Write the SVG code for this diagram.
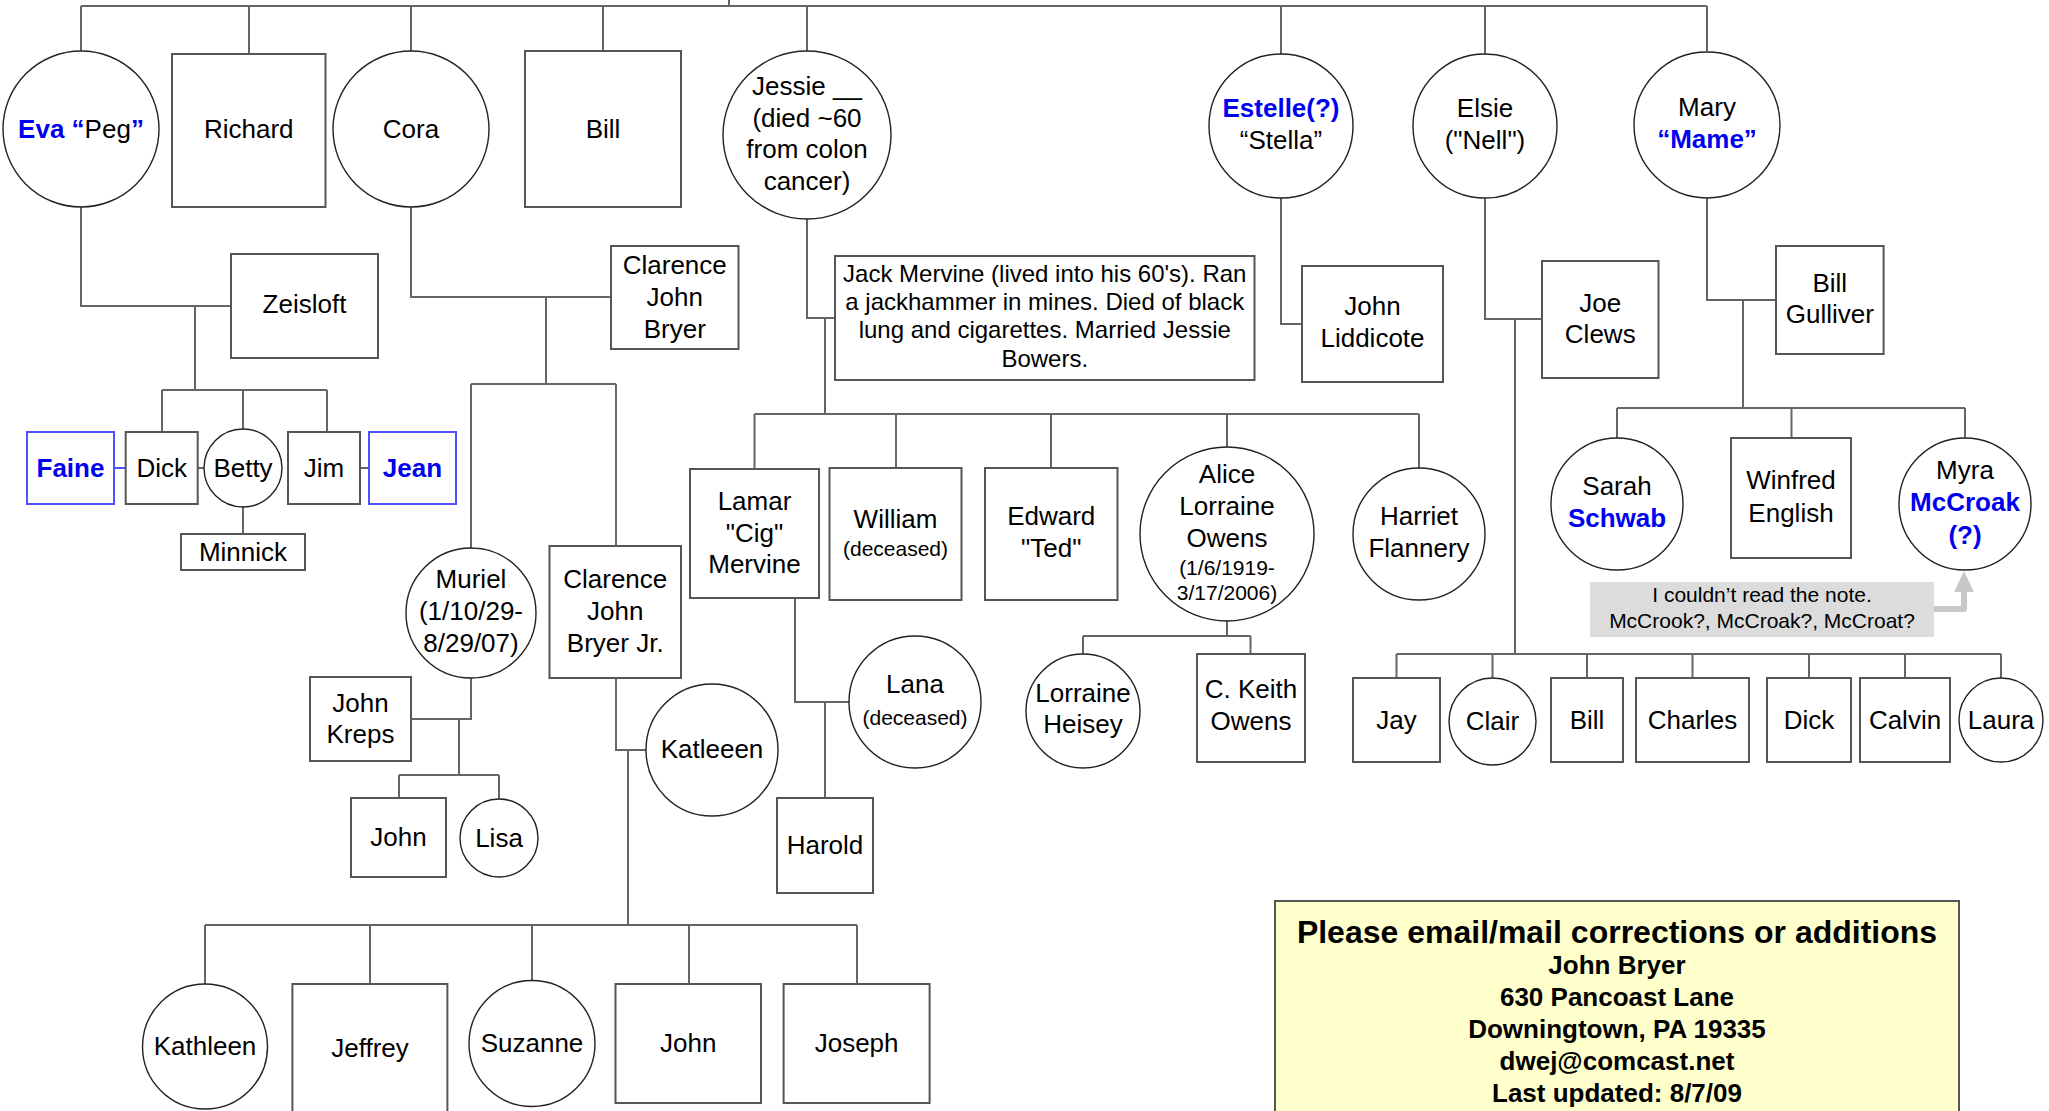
<svg xmlns="http://www.w3.org/2000/svg" width="2049" height="1111" viewBox="0 0 2049 1111">
<style>
.r{fill:#fff;stroke:#555;stroke-width:2}
.rb{fill:#fff;stroke:#5050ff;stroke-width:2}
.e{fill:#fff;stroke:#222;stroke-width:1.4}
.t{font-family:"Liberation Sans",Arial,sans-serif;font-size:26px;fill:#000;text-anchor:middle}
.s{font-size:21px}
.j{font-size:24px}
.bl{fill:#0000f0;font-weight:bold}
.c{fill:none;stroke:#666;stroke-width:2}
.cb{fill:none;stroke:#5050ff;stroke-width:2}
.bold{font-weight:bold}
</style>
<rect x="0" y="0" width="2049" height="1111" fill="#fff"/>
<g id="connectors">
<path class="c" d="M81,6 H1707 M729,0 V6 M81,6 V51 M249,6 V54 M411,6 V51 M603,6 V51 M807,6 V51 M1281,6 V54 M1485,6 V54 M1707,6 V51"/>
<path class="c" d="M81,207 V306 H231 M195,306 V390 M162,390 H327 M162,390 V432 M243,390 V429 M327,390 V432 M198,468 H204 M360,468 H369 M243,507 V534"/>
<path class="cb" d="M114,468 H126"/>
<path class="c" d="M411,207 V297 H611 M546,297 V384 M471,384 H616 M471,384 V548 M616,384 V546"/>
<path class="c" d="M471,678 V719 H411 M459,719 V775 M399,775 H499 M399,775 V798 M499,775 V799"/>
<path class="c" d="M616,678 V750 H646 M628,750 V925 M205,925 H857 M205,925 V984 M370,925 V984 M532,925 V980 M689,925 V984 M857,925 V984"/>
<path class="c" d="M807,219 V318 H835 M825,318 V414 M754.5,414 H1419 M754.5,414 V469 M896,414 V468 M1051,414 V468 M1227,414 V447 M1419,414 V468"/>
<path class="c" d="M795,598 V702 H850 M825,702 V798"/>
<path class="c" d="M1227,621 V636 M1083,636 H1250.5 M1083,636 V654 M1250.5,636 V654"/>
<path class="c" d="M1281,198 V324 H1302"/>
<path class="c" d="M1485,198 V319 H1542 M1515,319 V654 M1396.5,654 H2001 M1396.5,654 V678 M1492.5,654 V678 M1587,654 V678 M1692.5,654 V678 M1809,654 V678 M1905,654 V678 M2001,654 V678"/>
<path class="c" d="M1707,198 V300 H1776 M1743,300 V408 M1617,408 H1965 M1617,408 V438 M1791.5,408 V438 M1965,408 V438"/>
<path d="M1934,609 H1964 V588" fill="none" stroke="#c8c8c8" stroke-width="6" stroke-linejoin="round"/>
<polygon points="1964,571 1954,592 1974,592" fill="#c8c8c8"/>
</g>
<g id="eva"><circle class="e" cx="81" cy="129" r="78"/><text class="t" x="81" y="138"><tspan class="bl">Eva “</tspan>Peg<tspan class="bl">”</tspan></text></g>
<g id="richard"><rect class="r" x="172" y="54" width="153.5" height="153"/><text class="t" x="248.75" y="138">Richard</text></g>
<g id="cora"><circle class="e" cx="411" cy="129" r="78"/><text class="t" x="411" y="138">Cora</text></g>
<g id="bill"><rect class="r" x="525" y="51" width="156" height="156"/><text class="t" x="603" y="138">Bill</text></g>
<g id="jessie"><circle class="e" cx="807" cy="135" r="84"/><text class="t" x="807"><tspan x="807" y="95">Jessie __</tspan><tspan x="807" y="127">(died ~60</tspan><tspan x="807" y="158">from colon</tspan><tspan x="807" y="190">cancer)</tspan></text></g>
<g id="estelle"><circle class="e" cx="1281" cy="126" r="72"/><text class="t" x="1281"><tspan class="bl" x="1281" y="117">Estelle(?)</tspan><tspan x="1281" y="149">“Stella”</tspan></text></g>
<g id="elsie"><circle class="e" cx="1485" cy="126" r="72"/><text class="t" x="1485"><tspan x="1485" y="117">Elsie</tspan><tspan x="1485" y="149">("Nell")</tspan></text></g>
<g id="mary"><circle class="e" cx="1707" cy="125" r="73"/><text class="t" x="1707"><tspan x="1707" y="116">Mary</tspan><tspan class="bl" x="1707" y="148">“Mame”</tspan></text></g>
<g id="zeisloft"><rect class="r" x="231" y="254" width="147" height="104"/><text class="t" x="304.5" y="313">Zeisloft</text></g>
<g id="clarence"><rect class="r" x="611" y="246" width="127.5" height="103"/><text class="t"><tspan x="674.75" y="274">Clarence</tspan><tspan x="674.75" y="306">John</tspan><tspan x="674.75" y="338">Bryer</tspan></text></g>
<g id="jack"><rect class="r" x="835" y="256" width="419.5" height="124"/><text class="t j"><tspan x="1044.75" y="282">Jack Mervine (lived into his 60's). Ran</tspan><tspan x="1044.75" y="310">a jackhammer in mines. Died of black</tspan><tspan x="1044.75" y="338">lung and cigarettes. Married Jessie</tspan><tspan x="1044.75" y="367">Bowers.</tspan></text></g>
<g id="john-liddicote"><rect class="r" x="1302" y="266" width="141" height="116"/><text class="t"><tspan x="1372.5" y="315">John</tspan><tspan x="1372.5" y="347">Liddicote</tspan></text></g>
<g id="joe-clews"><rect class="r" x="1542" y="261" width="116.5" height="117"/><text class="t"><tspan x="1600.25" y="312">Joe</tspan><tspan x="1600.25" y="343">Clews</tspan></text></g>
<g id="bill-gulliver"><rect class="r" x="1776" y="246" width="107.6" height="108"/><text class="t"><tspan x="1829.8" y="292">Bill</tspan><tspan x="1829.8" y="323">Gulliver</tspan></text></g>
<g id="faine"><rect class="rb" x="27" y="432" width="87" height="72"/><text class="t bl" x="70.5" y="477">Faine</text></g>
<g id="dick"><rect class="r" x="125.7" y="432" width="72" height="72"/><text class="t" x="161.7" y="477">Dick</text></g>
<g id="betty"><circle class="e" cx="243" cy="468" r="39"/><text class="t" x="243" y="477">Betty</text></g>
<g id="jim"><rect class="r" x="288" y="432" width="72" height="72"/><text class="t" x="324" y="477">Jim</text></g>
<g id="jean"><rect class="rb" x="369" y="432" width="87" height="72"/><text class="t bl" x="412.5" y="477">Jean</text></g>
<g id="minnick"><rect class="r" x="181" y="534" width="124" height="36"/><text class="t" x="243" y="561">Minnick</text></g>
<g id="muriel"><circle class="e" cx="471" cy="613" r="65"/><text class="t"><tspan x="471" y="588">Muriel</tspan><tspan x="471" y="620">(1/10/29-</tspan><tspan x="471" y="652">8/29/07)</tspan></text></g>
<g id="clarence-jr"><rect class="r" x="549.5" y="546" width="131.5" height="132"/><text class="t"><tspan x="615.25" y="588">Clarence</tspan><tspan x="615.25" y="620">John</tspan><tspan x="615.25" y="652">Bryer Jr.</tspan></text></g>
<g id="john-kreps"><rect class="r" x="310" y="677" width="101" height="84"/><text class="t"><tspan x="360.5" y="712">John</tspan><tspan x="360.5" y="743">Kreps</tspan></text></g>
<g id="john-k"><rect class="r" x="351" y="798" width="95" height="79"/><text class="t" x="398.5" y="846">John</text></g>
<g id="lisa"><circle class="e" cx="499" cy="838" r="39"/><text class="t" x="499" y="847">Lisa</text></g>
<g id="katleeen"><circle class="e" cx="712" cy="750" r="66"/><text class="t" x="712" y="758">Katleeen</text></g>
<g id="lamar"><rect class="r" x="690" y="469" width="129" height="129"/><text class="t"><tspan x="754.5" y="510">Lamar</tspan><tspan x="754.5" y="542">"Cig"</tspan><tspan x="754.5" y="573">Mervine</tspan></text></g>
<g id="william"><rect class="r" x="829.5" y="468" width="132" height="132"/><text class="t"><tspan x="895.5" y="528">William</tspan><tspan class="s" x="895.5" y="556">(deceased)</tspan></text></g>
<g id="edward"><rect class="r" x="985" y="468" width="132.5" height="132"/><text class="t"><tspan x="1051.25" y="525">Edward</tspan><tspan x="1051.25" y="557">"Ted"</tspan></text></g>
<g id="alice"><circle class="e" cx="1227" cy="534" r="87"/><text class="t"><tspan x="1227" y="483">Alice</tspan><tspan x="1227" y="515">Lorraine</tspan><tspan x="1227" y="547">Owens</tspan><tspan class="s" x="1227" y="575">(1/6/1919-</tspan><tspan class="s" x="1227" y="600">3/17/2006)</tspan></text></g>
<g id="harriet"><circle class="e" cx="1419" cy="534" r="66"/><text class="t"><tspan x="1419" y="525">Harriet</tspan><tspan x="1419" y="557">Flannery</tspan></text></g>
<g id="lana"><circle class="e" cx="915" cy="702" r="66"/><text class="t"><tspan x="915" y="693">Lana</tspan><tspan class="s" x="915" y="725">(deceased)</tspan></text></g>
<g id="harold"><rect class="r" x="777" y="798" width="96" height="95"/><text class="t" x="825" y="854">Harold</text></g>
<g id="lorraine-heisey"><circle class="e" cx="1083" cy="711" r="57"/><text class="t"><tspan x="1083" y="702">Lorraine</tspan><tspan x="1083" y="733">Heisey</tspan></text></g>
<g id="keith-owens"><rect class="r" x="1197" y="654" width="108" height="108"/><text class="t"><tspan x="1251" y="698">C. Keith</tspan><tspan x="1251" y="730">Owens</tspan></text></g>
<g id="sarah"><circle class="e" cx="1617" cy="504" r="66"/><text class="t"><tspan x="1617" y="495">Sarah</tspan><tspan class="bl" x="1617" y="527">Schwab</tspan></text></g>
<g id="winfred"><rect class="r" x="1731" y="438" width="120" height="120"/><text class="t"><tspan x="1791" y="489">Winfred</tspan><tspan x="1791" y="522">English</tspan></text></g>
<g id="myra"><circle class="e" cx="1965" cy="504" r="66"/><text class="t"><tspan x="1965" y="479">Myra</tspan><tspan class="bl" x="1965" y="511">McCroak</tspan><tspan class="bl" x="1965" y="544">(?)</tspan></text></g>
<g id="note"><rect x="1590" y="582" width="344" height="55" fill="#dcdcdc"/><text class="t s"><tspan x="1762" y="602">I couldn’t read the note.</tspan><tspan x="1762" y="628">McCrook?, McCroak?, McCroat?</tspan></text></g>
<g id="jay"><rect class="r" x="1353" y="678" width="87" height="84"/><text class="t" x="1396.5" y="729">Jay</text></g>
<g id="clair"><circle class="e" cx="1492.5" cy="721.5" r="43.5"/><text class="t" x="1492.5" y="730">Clair</text></g>
<g id="bill-c"><rect class="r" x="1551" y="678" width="72" height="84"/><text class="t" x="1587" y="729">Bill</text></g>
<g id="charles"><rect class="r" x="1636" y="678" width="113" height="84"/><text class="t" x="1692.5" y="729">Charles</text></g>
<g id="dick-c"><rect class="r" x="1767" y="678" width="84" height="84"/><text class="t" x="1809" y="729">Dick</text></g>
<g id="calvin"><rect class="r" x="1860" y="678" width="90" height="84"/><text class="t" x="1905" y="729">Calvin</text></g>
<g id="laura"><circle class="e" cx="2001" cy="720" r="42"/><text class="t" x="2001" y="729">Laura</text></g>
<g id="kathleen"><circle class="e" cx="205" cy="1046.5" r="62.5"/><text class="t" x="205" y="1055">Kathleen</text></g>
<g id="jeffrey"><rect class="r" x="292.4" y="984" width="155" height="140"/><text class="t" x="370" y="1057">Jeffrey</text></g>
<g id="suzanne"><circle class="e" cx="532" cy="1043.5" r="63"/><text class="t" x="532" y="1052">Suzanne</text></g>
<g id="john-b"><rect class="r" x="615.5" y="984" width="145.5" height="119"/><text class="t" x="688.25" y="1052">John</text></g>
<g id="joseph"><rect class="r" x="783.6" y="984" width="146" height="119"/><text class="t" x="856.6" y="1052">Joseph</text></g>
<g id="contact"><rect x="1275" y="901" width="684" height="230" fill="#ffffcc" stroke="#555" stroke-width="2"/><text class="t bold"><tspan x="1617" y="943" style="font-size:32px">Please email/mail corrections or additions</tspan><tspan x="1617" y="974">John Bryer</tspan><tspan x="1617" y="1006">630 Pancoast Lane</tspan><tspan x="1617" y="1038">Downingtown, PA 19335</tspan><tspan x="1617" y="1070">dwej@comcast.net</tspan><tspan x="1617" y="1102">Last updated: 8/7/09</tspan></text></g>
</svg>
